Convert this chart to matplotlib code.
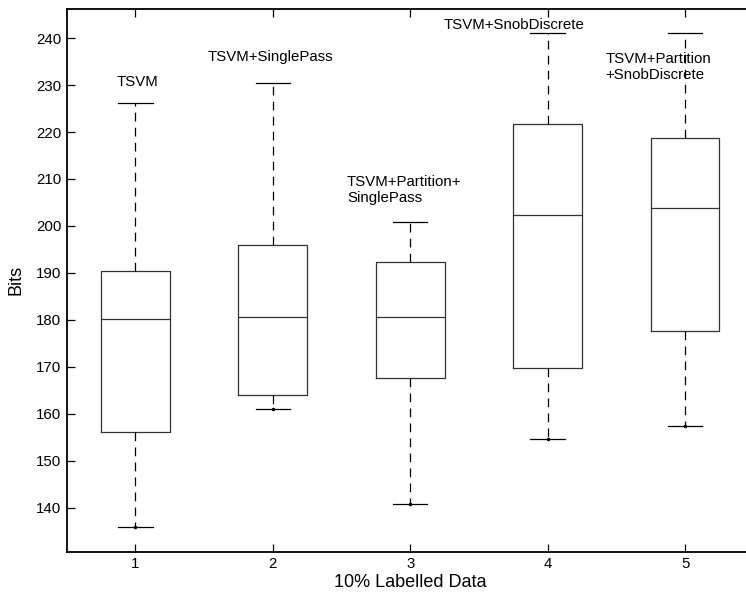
import matplotlib
matplotlib.use("Agg")
import matplotlib.pyplot as plt

plt.rcParams['font.family'] = ['Liberation Sans', 'DejaVu Sans']

# five-number summaries of bits per method (10% labelled data)
positions = [1, 2, 3, 4, 5]
whislo = [135.9, 161.1, 140.7, 154.6, 157.4]
q1 = [156.2, 164.0, 167.6, 169.7, 177.6]
med = [180.1, 180.7, 180.6, 202.4, 203.9]
q3 = [190.3, 196.0, 192.4, 221.7, 218.8]
whishi = [226.2, 230.4, 200.9, 241.0, 241.0]

method_names = ["TSVM", "TSVM+SinglePass", "TSVM+Partition+\nSinglePass",
                "TSVM+SnobDiscrete", "TSVM+Partition\n+SnobDiscrete"]
name_x = [0.864, 1.522, 2.54, 3.245, 4.42]
name_y = [230.7, 235.9, 207.7, 242.8, 233.8]

stats = []
for i in range(len(positions)):
    stats.append(dict(whislo=whislo[i], q1=q1[i], med=med[i], q3=q3[i],
                      whishi=whishi[i], fliers=[]))

fig = plt.figure(figsize=(7.46, 5.96), dpi=100)
ax = fig.add_axes([0.0894, 0.0743, 0.921, 0.9106])

line_col = '#333333'
ax.bxp(stats, positions=positions, widths=0.5, showfliers=False,
       boxprops=dict(color=line_col, linewidth=0.9),
       medianprops=dict(color=line_col, linewidth=0.9),
       whiskerprops=dict(color='black', linewidth=0.9, linestyle=(0, (7, 5))),
       capprops=dict(color='black', linewidth=0.9),
       capwidths=0.25)
ax.plot(positions, whislo, '.', color='black', ms=3, zorder=3)

for x, y, s in zip(name_x, name_y, method_names):
    ax.text(x, y, s, ha='left', va='center', fontsize=10.8, zorder=1,
            linespacing=1.15)

ax.set_xlim(0.5, 5.5)
ax.set_ylim(130.6, 246.2)
ax.set_yticks(range(140, 241, 10))
ax.set_xticks(positions)
ax.set_xticklabels([str(p) for p in positions])
ax.tick_params(direction='in', length=6, width=0.9, labelsize=10.8, pad=4,
               top=True, right=False)
for side in ['left', 'bottom', 'top']:
    ax.spines[side].set_linewidth(1.3)
ax.spines['right'].set_visible(False)

ax.set_xlabel("10% Labelled Data", fontsize=13, labelpad=2)
ax.set_ylabel("Bits", fontsize=13, labelpad=8)

fig.savefig("out.png", dpi=100)
